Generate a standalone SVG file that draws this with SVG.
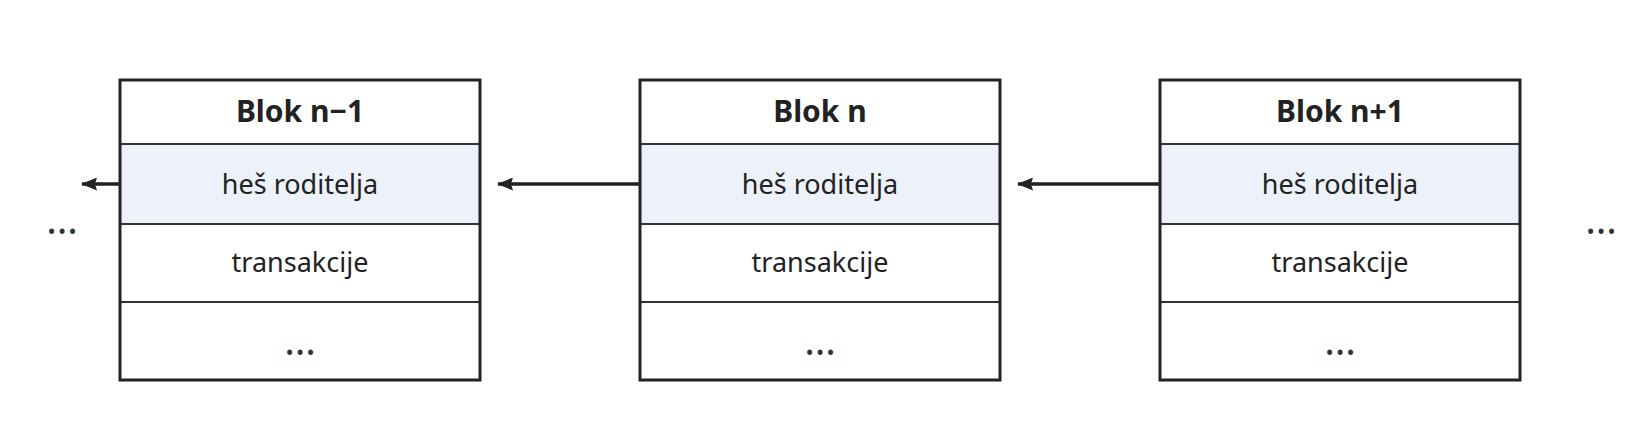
<svg xmlns="http://www.w3.org/2000/svg" width="1640" height="440" viewBox="0 0 1640 440">
<defs>
<style>
.frame{fill:none;stroke:#222;stroke-width:3}
.hash{fill:#edf1f9}
.div{stroke:#333;stroke-width:2}
.title{font-family:"Noto Sans","Open Sans",sans-serif;font-size:30px;font-weight:bold;fill:#222;text-anchor:middle}
.lbl{font-family:"Noto Sans","Open Sans",sans-serif;font-size:27px;fill:#222;text-anchor:middle}
.dots{font-family:"Noto Sans","Open Sans",sans-serif;font-size:40px;fill:#333;text-anchor:middle}
.conn{stroke:#222;stroke-width:3.5;fill:none}
</style>
<marker id="arr" viewBox="0 0 16 13" refX="15" refY="6.5" markerWidth="16" markerHeight="13" markerUnits="userSpaceOnUse" orient="auto">
<path d="M0,0 L16,6.5 L0,13 L2,6.5 Z" fill="#222"/>
</marker>
</defs>
<rect width="1640" height="440" fill="#fff"/>
<g id="block-n-1">
<rect x="120" y="80" width="360" height="300" fill="#fff"/>
<rect class="hash" x="120" y="144" width="360" height="80"/>
<line class="div" x1="120" y1="144" x2="480" y2="144"/>
<line class="div" x1="120" y1="224" x2="480" y2="224"/>
<line class="div" x1="120" y1="302" x2="480" y2="302"/>
<rect class="frame" x="120" y="80" width="360" height="300"/>
<text class="title" x="300" y="122">Blok n−1</text>
<text class="lbl" x="300" y="194">heš roditelja</text>
<text class="lbl" x="300" y="272">transakcije</text>
<text class="dots" x="300" y="355">…</text>
</g>
<g id="block-n">
<rect x="640" y="80" width="360" height="300" fill="#fff"/>
<rect class="hash" x="640" y="144" width="360" height="80"/>
<line class="div" x1="640" y1="144" x2="1000" y2="144"/>
<line class="div" x1="640" y1="224" x2="1000" y2="224"/>
<line class="div" x1="640" y1="302" x2="1000" y2="302"/>
<rect class="frame" x="640" y="80" width="360" height="300"/>
<text class="title" x="820" y="122">Blok n</text>
<text class="lbl" x="820" y="194">heš roditelja</text>
<text class="lbl" x="820" y="272">transakcije</text>
<text class="dots" x="820" y="355">…</text>
</g>
<g id="block-n1">
<rect x="1160" y="80" width="360" height="300" fill="#fff"/>
<rect class="hash" x="1160" y="144" width="360" height="80"/>
<line class="div" x1="1160" y1="144" x2="1520" y2="144"/>
<line class="div" x1="1160" y1="224" x2="1520" y2="224"/>
<line class="div" x1="1160" y1="302" x2="1520" y2="302"/>
<rect class="frame" x="1160" y="80" width="360" height="300"/>
<text class="title" x="1340" y="122">Blok n+1</text>
<text class="lbl" x="1340" y="194">heš roditelja</text>
<text class="lbl" x="1340" y="272">transakcije</text>
<text class="dots" x="1340" y="355">…</text>
</g>
<g id="ellipsis-left"><text class="dots" x="62" y="234">…</text></g>
<g id="ellipsis-right"><text class="dots" x="1601" y="234">…</text></g>
<g id="connectors">
<line class="conn" x1="120" y1="184" x2="82" y2="184" marker-end="url(#arr)"/>
<line class="conn" x1="640" y1="184" x2="498" y2="184" marker-end="url(#arr)"/>
<line class="conn" x1="1160" y1="184" x2="1018" y2="184" marker-end="url(#arr)"/>
</g>
</svg>
